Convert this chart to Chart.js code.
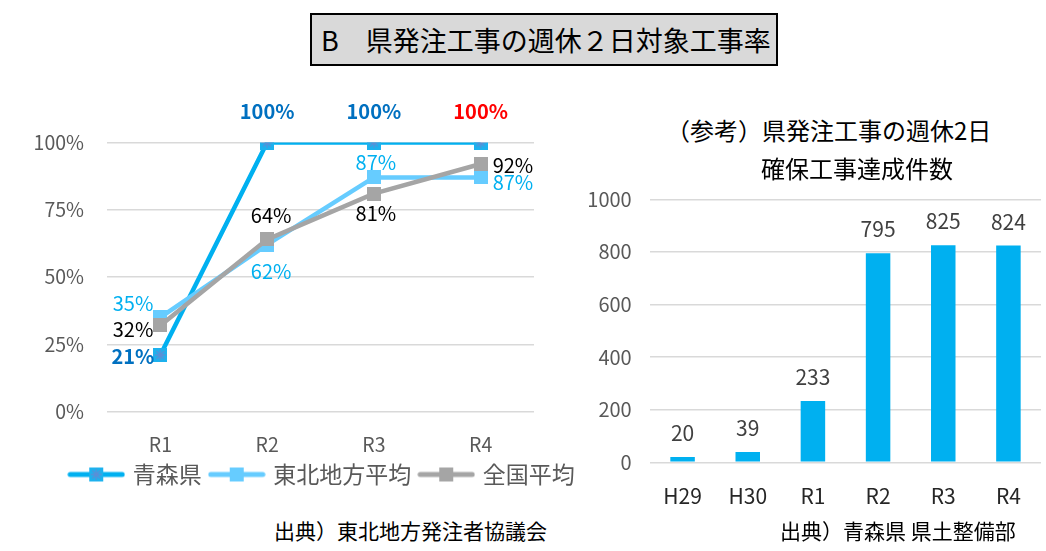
<!DOCTYPE html>
<html lang="ja">
<head>
<meta charset="utf-8">
<title>県発注工事の週休2日対象工事率</title>
<script src="https://cdn.jsdelivr.net/npm/chart.js@4.4.1/dist/chart.umd.min.js"></script>
<style>
  body {
    margin: 0;
    width: 1046px;
    height: 551px;
    position: relative;
    overflow: hidden;
    background: #ffffff;
    font-family: "Noto Sans CJK JP", sans-serif;
  }
  .title-box {
    position: absolute;
    left: 310px;
    top: 13px;
    width: 455px;
    height: 49px;
    padding-left: 9px;
    border: 2px solid #000;
    background: #d9d9d9;
    font-size: 27px;
    line-height: 49px;
    color: #000;
    white-space: nowrap;
  }
  canvas { position: absolute; }
  #rate-chart { left: 0; top: 80px; }
  #count-chart { left: 580px; top: 169px; }
  .sub-title {
    position: absolute;
    font-size: 24px;
    line-height: 38px;
    color: #000;
    white-space: nowrap;
  }
  .source {
    position: absolute;
    top: 517px;
    font-size: 21px;
    line-height: 26px;
    color: #000;
    white-space: nowrap;
  }
</style>
</head>
<body>
<div class="title-box">B　県発注工事の週休２日対象工事率</div>

<canvas id="rate-chart" width="646" height="430"></canvas>

<div class="sub-title" style="left:666px; top:111px;">（参考）県発注工事の週休2日</div>
<div class="sub-title" style="left:761px; top:149px;">確保工事達成件数</div>
<canvas id="count-chart" width="466" height="341"></canvas>

<div class="source" style="left:274px;">出典）東北地方発注者協議会</div>
<div class="source" style="left:780px;">出典）青森県 県土整備部</div>

<script>
// 左グラフ：週休2日対象工事率 (%)
const rateYears = ['R1', 'R2', 'R3', 'R4'];
const rateSeriesNames = ['青森県', '東北地方平均', '全国平均'];
const aomoriRate = [21, 100, 100, 100];
const tohokuRate = [35, 62, 87, 87];
const nationalRate = [32, 64, 81, 92];
const rateTicks = [0, 25, 50, 75, 100];

// 右グラフ：週休2日確保工事達成件数
const countYears = ['H29', 'H30', 'R1', 'R2', 'R3', 'R4'];
const countValues = [20, 39, 233, 795, 825, 824];
const countTicks = [0, 200, 400, 600, 800, 1000];

const FONT = '"Noto Sans CJK JP", sans-serif';
Chart.defaults.font.family = FONT;

// Colors used on the line chart
const aomoriColor = '#00b0f0';
const tohokuColor = '#66ccff';
const nationalColor = '#a5a5a5';

// Where each data label sits relative to its point: [dx, dy, align]
const aomoriLabelPos = [[-6, 1, 'right'], [0, -31, 'center'], [0, -31, 'center'], [0, -31, 'center']];
const tohokuLabelPos = [[-7, -14, 'right'], [4, 27, 'center'], [2, -15, 'center'], [12, 5, 'left']];
const nationalLabelPos = [[-7, 4, 'right'], [4, -24, 'center'], [2, 20, 'center'], [12, 1, 'left']];

// Square marker, optionally with an asterisk (Excel style "star" marker)
function makeMarker(fill, size, star) {
    const c = document.createElement('canvas');
    c.width = size;
    c.height = size;
    const g = c.getContext('2d');
    g.fillStyle = fill;
    g.fillRect(0, 0, size, size);
    if (star) {
        const m = size / 2;
        const r = size / 2 - 1.5;
        g.strokeStyle = '#5b8fd6';
        g.lineWidth = 1.4;
        g.beginPath();
        for (let k = 0; k < 4; k++) {
            const a = k * Math.PI / 4;
            g.moveTo(m - r * Math.cos(a), m - r * Math.sin(a));
            g.lineTo(m + r * Math.cos(a), m + r * Math.sin(a));
        }
        g.stroke();
    }
    return c;
}

// Legend sample: a short thick line with the marker in the middle
function makeLegendIcon(color, marker) {
    const c = document.createElement('canvas');
    c.width = 58;
    c.height = 16;
    const g = c.getContext('2d');
    g.strokeStyle = color;
    g.lineWidth = 5;
    g.lineCap = 'round';
    g.beginPath();
    g.moveTo(3, 8);
    g.lineTo(55, 8);
    g.stroke();
    g.drawImage(marker, 29 - marker.width / 2, 8 - marker.height / 2);
    return c;
}

const aomoriMarker = makeMarker('#1cb2ee', 14, true);
const tohokuMarker = makeMarker(tohokuColor, 14, false);
const nationalMarker = makeMarker(nationalColor, 14, false);
const legendIcons = [
    makeLegendIcon(aomoriColor, aomoriMarker),
    makeLegendIcon(tohokuColor, tohokuMarker),
    makeLegendIcon(nationalColor, nationalMarker)
];

// Draws the % labels next to each point
const rateLabelsPlugin = {
    id: 'rateLabels',
    afterDatasetsDraw(chart) {
        const ctx = chart.ctx;
        ctx.save();
        ctx.textBaseline = 'middle';
        chart.data.datasets.forEach((ds, i) => {
            const meta = chart.getDatasetMeta(i);
            meta.data.forEach((pt, j) => {
                const pos = ds.labelPos[j];
                ctx.font = (ds.labelBold ? 'bold ' : '') + '20px ' + FONT;
                ctx.fillStyle = Array.isArray(ds.labelColor) ? ds.labelColor[j] : ds.labelColor;
                ctx.textAlign = pos[2];
                ctx.fillText(ds.data[j] + '%', pt.x + pos[0], pt.y + pos[1]);
            });
        });
        ctx.restore();
    }
};

function createRateChart() {
    const ctx = document.getElementById('rate-chart').getContext('2d');
    new Chart(ctx, {
        type: 'line',
        data: {
            labels: rateYears,
            datasets: [
                {
                    label: rateSeriesNames[0],
                    data: aomoriRate,
                    borderColor: aomoriColor,
                    backgroundColor: aomoriColor,
                    pointStyle: aomoriMarker,
                    labelColor: ['#0070c0', '#0070c0', '#0070c0', '#ff0000'],
                    labelBold: true,
                    labelPos: aomoriLabelPos,
                    order: 3
                },
                {
                    label: rateSeriesNames[1],
                    data: tohokuRate,
                    borderColor: tohokuColor,
                    backgroundColor: tohokuColor,
                    pointStyle: tohokuMarker,
                    labelColor: '#00b0f0',
                    labelBold: false,
                    labelPos: tohokuLabelPos,
                    order: 2
                },
                {
                    label: rateSeriesNames[2],
                    data: nationalRate,
                    borderColor: nationalColor,
                    backgroundColor: nationalColor,
                    pointStyle: nationalMarker,
                    labelColor: '#000000',
                    labelBold: false,
                    labelPos: nationalLabelPos,
                    order: 1
                }
            ]
        },
        options: {
            responsive: false,
            animation: false,
            layout: { padding: { top: 62.5, bottom: 14, left: 0, right: 0 } },
            elements: {
                line: { borderWidth: 4.5, tension: 0 },
                point: { radius: 7 }
            },
            scales: {
                x: {
                    offset: true,
                    grid: { display: false, drawTicks: false },
                    border: { display: false },
                    ticks: { color: '#595959', padding: 21, font: { size: 19.5 } },
                    afterFit(scale) { scale.height = 41.5; }
                },
                y: {
                    min: 0,
                    max: 100,
                    afterBuildTicks(scale) { scale.ticks = rateTicks.map(v => ({ value: v })); },
                    grid: { color: '#d9d9d9', lineWidth: 1.5, drawTicks: false },
                    border: { display: false },
                    ticks: {
                        color: '#595959',
                        padding: 23,
                        font: { size: 19.5 },
                        callback: v => v + '%'
                    },
                    afterFit(scale) { scale.width = 107; }
                },
                // empty axis on the right only keeps the plot narrower than the legend
                yRight: {
                    position: 'right',
                    display: true,
                    grid: { display: false, drawTicks: false },
                    border: { display: false },
                    ticks: { display: false },
                    afterFit(scale) { scale.width = 112; }
                }
            },
            plugins: {
                legend: {
                    position: 'bottom',
                    labels: {
                        usePointStyle: true,
                        pointStyleWidth: 50,
                        padding: 10,
                        color: '#595959',
                        font: { size: 23 },
                        generateLabels(chart) {
                            return chart.data.datasets.map((ds, i) => ({
                                text: ds.label,
                                pointStyle: legendIcons[i],
                                fillStyle: ds.borderColor,
                                strokeStyle: ds.borderColor,
                                lineWidth: 0,
                                fontColor: '#595959',
                                hidden: false,
                                datasetIndex: i
                            }));
                        }
                    }
                },
                tooltip: { enabled: false }
            }
        },
        plugins: [rateLabelsPlugin]
    });
}

// Value labels above each bar
const countLabelsPlugin = {
    id: 'countLabels',
    afterDatasetsDraw(chart) {
        const ctx = chart.ctx;
        const meta = chart.getDatasetMeta(0);
        ctx.save();
        ctx.font = '21px ' + FONT;
        ctx.fillStyle = '#404040';
        ctx.textAlign = 'center';
        ctx.textBaseline = 'middle';
        meta.data.forEach((bar, j) => {
            ctx.fillText(String(countValues[j]), bar.x, bar.y - 24);
        });
        ctx.restore();
    }
};

function createCountChart() {
    const ctx = document.getElementById('count-chart').getContext('2d');
    new Chart(ctx, {
        type: 'bar',
        data: {
            labels: countYears,
            datasets: [{
                label: '達成件数',
                data: countValues,
                backgroundColor: '#00b0f0',
                borderWidth: 0,
                barPercentage: 0.376,
                categoryPercentage: 1
            }]
        },
        options: {
            responsive: false,
            animation: false,
            layout: { padding: { top: 0, right: 5, bottom: 0, left: 0 } },
            scales: {
                x: {
                    grid: { display: false, drawTicks: false },
                    border: { display: false },
                    ticks: { color: '#262626', padding: 21.3, font: { size: 21 } },
                    afterFit(scale) { scale.height = 47.7; }
                },
                y: {
                    min: 0,
                    max: 1000,
                    afterBuildTicks(scale) { scale.ticks = countTicks.map(v => ({ value: v })); },
                    grid: { color: '#d9d9d9', lineWidth: 1.5, drawTicks: false },
                    border: { display: false },
                    ticks: { color: '#595959', padding: 18.3, font: { size: 20 }, callback: v => String(v) },
                    afterFit(scale) { scale.width = 70; }
                }
            },
            plugins: {
                legend: { display: false },
                tooltip: { enabled: false }
            }
        },
        plugins: [countLabelsPlugin]
    });
}

document.addEventListener('DOMContentLoaded', function() {
    createRateChart();
    createCountChart();
});
</script>
</body>
</html>
